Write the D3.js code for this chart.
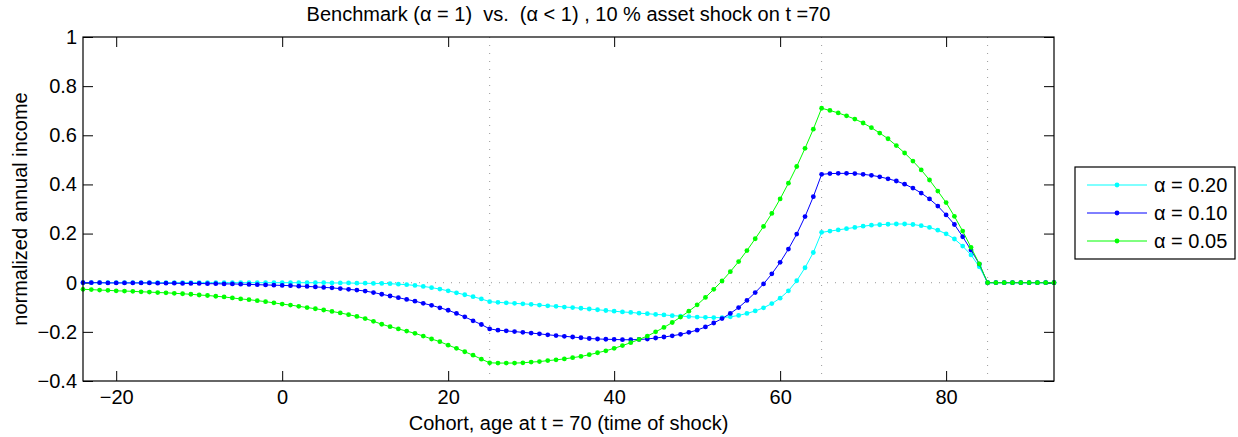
<!DOCTYPE html>
<html>
<head>
<meta charset="utf-8">
<script src="https://cdnjs.cloudflare.com/ajax/libs/d3/7.8.5/d3.min.js"></script>
<style>
    body { margin: 0; background: #fff; }
    text { font-family: "Liberation Sans", Arial, Helvetica, sans-serif; fill: #000; }
</style>
</head>
<body>
<div id="chart"></div>
<script>
// cohort age at t = 70
var ages = [-24, -23, -22, -21, -20, -19, -18, -17, -16, -15, -14, -13, -12, -11, -10, -9, -8, -7, -6, -5,
    -4, -3, -2, -1, 0, 1, 2, 3, 4, 5, 6, 7, 8, 9, 10, 11, 12, 13, 14, 15, 16, 17, 18, 19, 20, 21, 22, 23, 24, 25,
    26, 27, 28, 29, 30, 31, 32, 33, 34, 35, 36, 37, 38, 39, 40, 41, 42, 43, 44, 45, 46, 47, 48, 49, 50,
    51, 52, 53, 54, 55, 56, 57, 58, 59, 60, 61, 62, 63, 64, 65, 66, 67, 68, 69, 70, 71, 72, 73, 74, 75,
    76, 77, 78, 79, 80, 81, 82, 83, 84, 85, 86, 87, 88, 89, 90, 91, 92, 93];

var alpha020 = [0, 0, 0, 0, 0, 0, 0, 0, 0, 0, 0, 0, 0, 0, 0, 0, 0, 0, 0, 0,
    0, 0, 0, 0, 0, 0, 0, 0, 0, 0, -0.001, -0.001, -0.001, -0.002, -0.002, -0.003,
    -0.003, -0.004, -0.006, -0.008, -0.011, -0.015, -0.020, -0.026, -0.033, -0.041, -0.049, -0.057, -0.066, -0.077,
    -0.080, -0.082, -0.084, -0.086, -0.088, -0.091, -0.094, -0.096, -0.099, -0.101, -0.104, -0.107, -0.110, -0.113, -0.116,
    -0.119, -0.121, -0.124, -0.126, -0.129, -0.131, -0.134, -0.136, -0.138, -0.140, -0.141, -0.142, -0.142, -0.139, -0.133,
    -0.125, -0.115, -0.102, -0.085, -0.063, -0.033, 0.008, 0.061, 0.123, 0.205,
    0.210, 0.215, 0.220, 0.225, 0.230, 0.234, 0.236, 0.238, 0.239, 0.239, 0.237, 0.232, 0.225, 0.214, 0.199,
    0.178, 0.149, 0.113, 0.065, 0, 0, 0, 0, 0, 0, 0, 0, 0];

var alpha010 = [0, 0, 0, -0.001, -0.001, -0.001, -0.001, -0.001, -0.001, -0.002, -0.002, -0.002, -0.003, -0.003, -0.003,
    -0.004, -0.004, -0.005, -0.005, -0.006, -0.007, -0.008, -0.009, -0.010, -0.011,
    -0.012, -0.014, -0.015, -0.017, -0.019, -0.021, -0.024, -0.027, -0.030, -0.034, -0.040, -0.047, -0.054, -0.061, -0.068,
    -0.075, -0.084, -0.092, -0.102, -0.112, -0.125, -0.139, -0.155, -0.170, -0.188,
    -0.193, -0.196, -0.199, -0.202, -0.205, -0.208, -0.212, -0.215, -0.218, -0.221, -0.224, -0.227, -0.229, -0.230, -0.231,
    -0.232, -0.232, -0.231, -0.229, -0.225, -0.221, -0.216, -0.210, -0.202, -0.193, -0.180, -0.164, -0.146, -0.125, -0.101,
    -0.072, -0.040, -0.005, 0.036, 0.083, 0.137, 0.198, 0.269, 0.350, 0.441,
    0.444, 0.445, 0.445, 0.444, 0.441, 0.437, 0.431, 0.423, 0.414, 0.401, 0.385, 0.365, 0.341, 0.312, 0.276,
    0.237, 0.187, 0.133, 0.076, 0, 0, 0, 0, 0, 0, 0, 0, 0];

var alpha005 = [-0.027, -0.028, -0.030, -0.031, -0.033, -0.034, -0.035, -0.037, -0.038, -0.040, -0.041, -0.043, -0.045,
    -0.047, -0.050, -0.052, -0.055, -0.058, -0.062, -0.066, -0.069, -0.073, -0.077, -0.082, -0.087,
    -0.091, -0.096, -0.101, -0.106, -0.111, -0.117, -0.123, -0.130, -0.137, -0.146, -0.157, -0.169, -0.179, -0.188, -0.197,
    -0.206, -0.217, -0.229, -0.240, -0.254, -0.267, -0.281, -0.295, -0.311, -0.326,
    -0.327, -0.327, -0.327, -0.326, -0.323, -0.321, -0.317, -0.314, -0.310, -0.305, -0.300, -0.293, -0.285, -0.277, -0.267,
    -0.256, -0.244, -0.231, -0.217, -0.200, -0.182, -0.162, -0.140, -0.116, -0.090, -0.060, -0.027, 0.007, 0.045, 0.086,
    0.131, 0.179, 0.229, 0.282, 0.341, 0.405, 0.473, 0.547, 0.625, 0.710,
    0.701, 0.691, 0.679, 0.666, 0.650, 0.631, 0.609, 0.586, 0.558, 0.528, 0.495, 0.459, 0.418, 0.373, 0.326,
    0.270, 0.210, 0.144, 0.077, 0, 0, 0, 0, 0, 0, 0, 0, 0];

var seriesNames = ["\u03b1 = 0.20", "\u03b1 = 0.10", "\u03b1 = 0.05"];
var seriesColors = ["#00ffff", "#0000ff", "#00ff00"];
var seriesValues = [alpha020, alpha010, alpha005];

var xTicks = [-20, 0, 20, 40, 60, 80];
var yTicks = [-0.4, -0.2, 0, 0.2, 0.4, 0.6, 0.8, 1];
var markerAges = [25, 65, 85];   // dotted verticals

var W = 1238, H = 437;
var margin = {top: 37, right: 184, bottom: 56, left: 83},
    width = W - margin.left - margin.right,
    height = H - margin.top - margin.bottom;

var svg = d3.select("#chart").append("svg")
    .attr("width", W)
    .attr("height", H);

var g = svg.append("g")
    .attr("transform", "translate(" + margin.left + "," + margin.top + ")");

var x = d3.scaleLinear().domain([-24, 93]).range([0, width]);
var y = d3.scaleLinear().domain([-0.4, 1]).range([height, 0]);

var fmt = function (d) { return d3.format("~g")(d); };

// dotted guide lines
g.selectAll(".vguide")
    .data(markerAges)
    .enter().append("line")
    .attr("class", "vguide")
    .attr("x1", function (d) { return x(d); })
    .attr("x2", function (d) { return x(d); })
    .attr("y1", 0)
    .attr("y2", height)
    .style("stroke", "#9a9a9a")
    .style("stroke-width", 1)
    .style("stroke-dasharray", "1,7");

g.append("line")
    .attr("x1", 0)
    .attr("x2", width)
    .attr("y1", y(0))
    .attr("y2", y(0))
    .style("stroke", "#9a9a9a")
    .style("stroke-width", 1)
    .style("stroke-dasharray", "1,7");

// axes, MATLAB style: ticks inside, on all four sides
var xAxis = d3.axisBottom(x).tickValues(xTicks).tickFormat(fmt).tickSizeInner(-10).tickSizeOuter(0).tickPadding(9);
var yAxis = d3.axisLeft(y).tickValues(yTicks).tickFormat(fmt).tickSizeInner(-10).tickSizeOuter(0).tickPadding(6);

g.append("g")
    .attr("class", "x axis")
    .attr("transform", "translate(0," + height + ")")
    .call(xAxis);
g.append("g")
    .attr("class", "x axis top")
    .call(d3.axisTop(x).tickValues(xTicks).tickFormat("").tickSizeInner(-10).tickSizeOuter(0));
g.append("g")
    .attr("class", "y axis")
    .call(yAxis);
g.append("g")
    .attr("class", "y axis right")
    .attr("transform", "translate(" + width + ",0)")
    .call(d3.axisRight(y).tickValues(yTicks).tickFormat("").tickSizeInner(-10).tickSizeOuter(0));

g.selectAll(".axis .domain").remove();
g.selectAll(".axis line").style("stroke", "#000").style("stroke-width", 1);
g.selectAll(".axis text")
    .style("font-size", "20px")
    .style("fill", "#000");

// series
var line = d3.line()
    .x(function (d) { return x(d[0]); })
    .y(function (d) { return y(d[1]); });

seriesValues.forEach(function (vals, k) {
    var pts = ages.map(function (a, i) { return [a, vals[i]]; });
    var sg = g.append("g").attr("class", "series");
    sg.append("path")
        .attr("d", line(pts))
        .style("fill", "none")
        .style("stroke", seriesColors[k])
        .style("stroke-width", 1);
    sg.selectAll("circle")
        .data(pts)
        .enter().append("circle")
        .attr("cx", function (d) { return x(d[0]); })
        .attr("cy", function (d) { return y(d[1]); })
        .attr("r", 2.4)
        .style("fill", seriesColors[k]);
});

// box
g.append("rect")
    .attr("width", width)
    .attr("height", height)
    .style("fill", "none")
    .style("stroke", "#000")
    .style("stroke-width", 1.2);

// labels
svg.append("text")
    .attr("x", margin.left + width / 2)
    .attr("y", 21)
    .attr("text-anchor", "middle")
    .style("font-size", "20px")
    .text("Benchmark (\u03b1 = 1)  vs.  (\u03b1 < 1) , 10 % asset shock on t =70")
    .attr("xml:space", "preserve")
    .style("white-space", "pre");

svg.append("text")
    .attr("x", margin.left + width / 2)
    .attr("y", 430)
    .attr("text-anchor", "middle")
    .style("font-size", "20px")
    .text("Cohort, age at t = 70 (time of shock)");

svg.append("text")
    .attr("transform", "translate(27," + (margin.top + height / 2) + ") rotate(-90)")
    .attr("text-anchor", "middle")
    .style("font-size", "20px")
    .text("normalized annual income");

// legend
var legend = svg.append("g")
    .attr("class", "legend")
    .attr("transform", "translate(1075,167)");

legend.append("rect")
    .attr("width", 160)
    .attr("height", 92)
    .style("fill", "#fff")
    .style("stroke", "#000")
    .style("stroke-width", 1.2);

var item = legend.selectAll(".item")
    .data(seriesNames)
    .enter().append("g")
    .attr("class", "item")
    .attr("transform", function (d, i) { return "translate(0," + (18 + i * 28) + ")"; });

item.append("line")
    .attr("x1", 12)
    .attr("x2", 72)
    .style("stroke", function (d, i) { return seriesColors[i]; })
    .style("stroke-width", 1);
item.append("circle")
    .attr("cx", 42)
    .attr("r", 2.4)
    .style("fill", function (d, i) { return seriesColors[i]; });
item.append("text")
    .attr("x", 79)
    .attr("dy", "0.35em")
    .style("font-size", "20px")
    .text(function (d) { return d; });
</script>
</body>
</html>
